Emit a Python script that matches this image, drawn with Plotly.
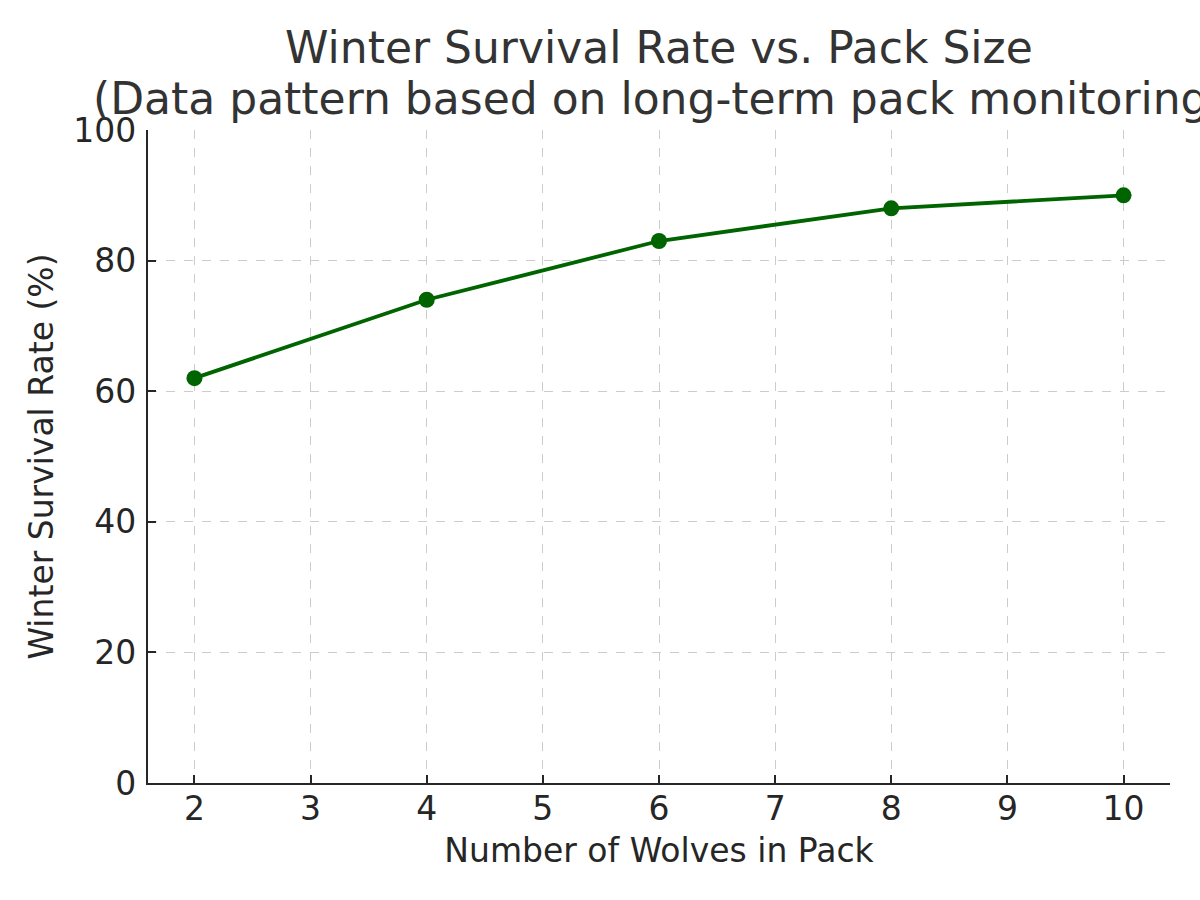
import plotly.graph_objects as go

pack_size = [2, 4, 6, 8, 10]
survival_rate = [62, 74, 83, 88, 90]
x_ticks = [2, 3, 4, 5, 6, 7, 8, 9, 10]
y_ticks = [0, 20, 40, 60, 80, 100]

title_line1 = "Winter Survival Rate vs. Pack Size"
title_line2 = "(Data pattern based on long-term pack monitoring)"
x_title = "Number of Wolves in Pack"
y_title = "Winter Survival Rate (%)"

font_family = "DejaVu Sans"
axis_color = "#262626"
label_size = 33
tick_size = 33
title_size = 44

fig = go.Figure()
fig.add_trace(go.Scatter(
    x=pack_size, y=survival_rate, mode="lines+markers",
    line=dict(color="#006400", width=3.8),
    marker=dict(color="#006400", size=16),
    showlegend=False,
))

axis_common = dict(
    showline=True, linecolor=axis_color, linewidth=2.4,
    ticks="inside", ticklen=8, tickwidth=2, tickcolor=axis_color,
    showgrid=True, gridcolor="#cccccc", gridwidth=1, griddash="dash",
    zeroline=False, mirror=False,
    tickfont=dict(family=font_family, size=tick_size, color=axis_color),
)

fig.update_xaxes(
    range=[1.6, 10.4], tickmode="array", tickvals=x_ticks,
    title=dict(text=x_title, font=dict(family=font_family, size=label_size, color=axis_color), standoff=12),
    ticklabelstandoff=-5,
    **axis_common,
)
fig.update_yaxes(
    range=[0, 100], tickmode="array", tickvals=y_ticks,
    title=dict(text=y_title, font=dict(family=font_family, size=label_size, color=axis_color), standoff=10),
    ticklabelstandoff=3,
    **axis_common,
)

center_x = 0.5
fig.update_layout(
    width=1200, height=900,
    margin=dict(l=148, r=30, t=130, b=117),
    paper_bgcolor="white", plot_bgcolor="white",
    font=dict(family=font_family),
    annotations=[
        dict(text=title_line1, x=center_x, y=1.1263, xref="paper", yref="paper",
             xanchor="center", yanchor="middle", showarrow=False,
             font=dict(family=font_family, size=title_size, color="#333333")),
        dict(text=title_line2, x=center_x, y=1.0490, xref="paper", yref="paper",
             xanchor="center", yanchor="middle", showarrow=False,
             font=dict(family=font_family, size=title_size, color="#333333")),
    ],
)

fig.write_html("out.html")
